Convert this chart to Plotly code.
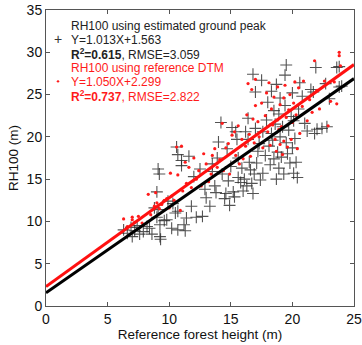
import plotly.graph_objects as go

# Black crosses: RH100 using estimated ground peak
bx = [6.3,6.6,6.9,7.0,7.2,7.4,7.6,7.9,8.2,8.4,8.6,8.8,
      9.0,9.1,9.2,9.0,9.1,9.25,9.25,9.3,9.6,9.8,9.9,10.2,10.3,10.5,10.6,10.7,10.7,10.7,11.0,11.0,11.2,11.4,11.6,11.3,
      11.8,12.0,12.2,12.5,12.7,12.9,13.0,13.3,13.5,13.5,13.7,13.8,13.9,14.0,14.2,14.3,14.5,14.6,14.7,14.8,14.9,15.0,
      15.1,15.2,15.3,15.4,15.5,15.6,15.6,15.8,15.9,16.0,16.1,16.2,16.3,16.4,16.4,16.5,16.6,16.7,16.8,16.8,16.9,17.0,17.0,17.1,17.2,17.3,17.4,
      17.5,17.6,17.6,17.8,17.9,18.0,18.1,18.2,18.3,18.3,18.4,18.5,18.5,18.6,18.7,18.7,18.8,18.9,18.9,19.0,19.0,
      19.1,19.2,19.3,19.4,19.4,19.5,19.5,19.6,19.7,19.8,19.9,20.0,20.0,20.1,20.1,20.3,20.4,20.5,20.6,20.2,
      20.8,21.0,21.2,21.5,21.7,21.8,21.9,22.0,22.4,22.7,22.8,23.0,23.6,23.8,23.8,24.0]
by = [9.0,8.6,9.3,8.2,8.9,9.5,8.5,8.8,9.4,9.2,8.5,11.6,
      13.5,16.2,15.6,10.5,11.4,9.6,8.2,7.9,10.1,10.2,12.4,9.2,12.1,11.0,18.8,17.9,9.0,11.2,17.2,16.6,9.6,10.4,17.7,8.9,
      11.8,15.3,10.5,16.2,10.6,13.8,12.8,11.8,16.8,15.9,14.2,13.4,17.5,19.4,21.7,15.6,12.7,13.3,18.6,14.8,11.9,16.5,
      21.1,13.5,12.9,20.6,19.7,17.5,15.2,14.6,16.3,13.6,15.0,20.6,14.2,19.7,22.2,17.0,16.1,14.5,27.4,13.3,15.6,25.3,21.0,16.9,18.3,19.2,14.9,
      26.7,20.6,15.7,17.8,22.0,24.1,18.9,16.7,25.4,20.4,19.6,23.1,17.4,21.5,26.2,15.0,18.2,22.7,16.3,20.0,24.6,
      17.6,21.2,15.6,27.3,23.7,28.5,19.3,18.0,20.8,16.9,22.4,25.2,18.7,21.9,15.7,17.0,15.2,23.3,26.4,19.8,
      24.8,21.6,20.7,25.6,25.3,20.4,28.2,20.9,21.0,26.3,21.2,24.5,28.2,25.9,28.3,26.0]

# Red dots: RH100 using reference DTM
rx = [6.3,6.6,7.0,7.0,7.2,7.5,7.8,8.3,8.5,8.8,8.9,9.0,9.2,
      9.4,9.6,9.8,10.0,10.1,10.2,10.4,10.6,10.7,10.9,11.0,11.1,11.3,11.4,11.6,11.8,
      12.0,12.2,12.4,12.6,12.8,13.0,13.2,13.4,13.5,13.7,13.9,14.1,14.3,14.4,14.6,14.8,14.9,
      15.1,15.3,15.4,15.6,15.7,15.9,16.0,16.2,16.3,16.4,16.5,16.6,16.7,16.8,16.9,17.0,17.0,
      17.2,17.3,17.5,17.6,17.8,17.9,18.0,18.1,18.2,18.3,18.4,18.5,18.6,18.7,18.8,18.8,18.9,19.0,19.0,
      19.1,19.2,19.3,19.3,19.4,19.5,19.6,19.7,19.8,19.9,20.0,20.1,20.2,20.3,20.4,20.5,20.6,20.8,20.9,
      21.2,21.4,21.6,21.8,22.0,22.2,22.6,22.9,23.1,23.4,23.6,23.8,23.8,23.9]
ry = [10.3,9.4,10.5,10.2,9.9,10.6,9.8,13.2,10.8,11.8,13.4,12.2,11.5,
      12.0,12.5,12.7,11.6,15.7,13.0,12.5,18.8,15.5,11.3,18.9,13.6,17.0,14.5,16.4,14.0,
      17.5,15.0,16.0,14.2,18.0,16.8,14.7,15.6,17.8,18.6,16.4,17.3,21.6,16.0,18.7,19.2,15.6,
      20.2,20.6,17.8,21.3,16.8,19.7,17.4,18.9,22.6,26.3,20.3,17.7,25.6,22.1,19.3,23.7,26.8,
      21.8,20.0,24.0,18.7,22.5,25.2,20.6,26.4,19.0,23.3,21.4,24.7,19.7,18.3,22.0,25.9,20.9,19.1,23.8,
      21.2,17.9,24.6,19.5,26.1,22.3,18.8,23.2,25.0,19.7,21.7,24.0,26.5,22.6,18.6,25.8,20.4,23.6,26.6,
      21.9,24.4,22.9,29.0,25.5,23.3,26.6,21.3,24.2,26.5,23.9,30.0,29.6,28.4]

fit_names = ["estimated ground peak", "reference DTM"]
fit_slope = [1.013, 1.050]
fit_icpt = [1.563, 2.299]
fit_r2 = [0.615, 0.737]
fit_rmse = [3.059, 2.822]
fit_x = [0, 25]

xticks = [0, 5, 10, 15, 20, 25]
yticks = [0, 5, 10, 15, 20, 25, 30, 35]

FONT = "Liberation Sans, Arial, Helvetica, sans-serif"

fig = go.Figure()
fig.add_trace(go.Scatter(x=bx, y=by, mode="markers",
                         marker=dict(symbol="cross-thin-open", size=8.5,
                                     color="rgba(40,40,40,0.8)",
                                     line=dict(color="rgba(40,40,40,0.8)", width=1.1)),
                         showlegend=False))
fig.add_trace(go.Scatter(x=rx, y=ry, mode="markers",
                         marker=dict(symbol="circle", size=3.2, color="#ff1a1a"),
                         showlegend=False))
for s, b, c in zip(fit_slope, fit_icpt, ["black", "#ff1010"]):
    fig.add_trace(go.Scatter(x=fit_x, y=[s * x + b for x in fit_x], mode="lines",
                             line=dict(color=c, width=3), showlegend=False))

axis_common = dict(showgrid=False, zeroline=False, showline=True, linecolor="#555",
                   linewidth=1, mirror="ticks", ticks="inside", ticklen=4,
                   tickcolor="#555", automargin=False,
                   tickfont=dict(size=14, color="#111", family=FONT))
fig.update_xaxes(range=[0, 25], tickvals=xticks,
                 title=dict(text="Reference forest height (m)", font=dict(size=13.5, color="#111"), standoff=2),
                 **axis_common)
fig.update_yaxes(range=[0, 35], tickvals=yticks,
                 title=dict(text="RH100 (m)", font=dict(size=13.5, color="#111"), standoff=4),
                 **axis_common)

lines = [
    ("RH100 using estimated ground peak", "#222", 0.946),
    ("Y=%.3fX+%.3f" % (fit_slope[0], fit_icpt[0]), "#222", 0.899),
    ("<b>R<sup>2</sup>=%.3f</b>, RMSE=%.3f" % (fit_r2[0], fit_rmse[0]), "#222", 0.853),
    ("RH100 using reference DTM", "#ff1a1a", 0.804),
    ("Y=%.3fX+%.3f" % (fit_slope[1], fit_icpt[1]), "#ff1a1a", 0.757),
    ("<b>R<sup>2</sup>=%.3f</b>, RMSE=%.3f" % (fit_r2[1], fit_rmse[1]), "#ff1a1a", 0.711),
]
for t, c, yy in lines:
    fig.add_annotation(text=t, xref="paper", yref="paper", x=0.075, y=yy,
                       xanchor="left", yanchor="middle", showarrow=False,
                       font=dict(size=12, color=c, family=FONT))
# legend symbols
fig.add_annotation(text="+", xref="paper", yref="paper", x=0.039, y=0.901,
                   xanchor="center", yanchor="middle", showarrow=False,
                   font=dict(size=14, color="#333", family=FONT))
fig.add_shape(type="circle", xref="paper", yref="paper",
              x0=0.035, x1=0.043, y0=0.755, y1=0.763,
              fillcolor="#ff1a1a", line=dict(width=0))

fig.update_layout(width=362, height=345, margin=dict(l=46, r=8, t=10, b=39),
                  paper_bgcolor="white", plot_bgcolor="white",
                  font=dict(family=FONT, color="#111"))
fig.write_html("out.html")
